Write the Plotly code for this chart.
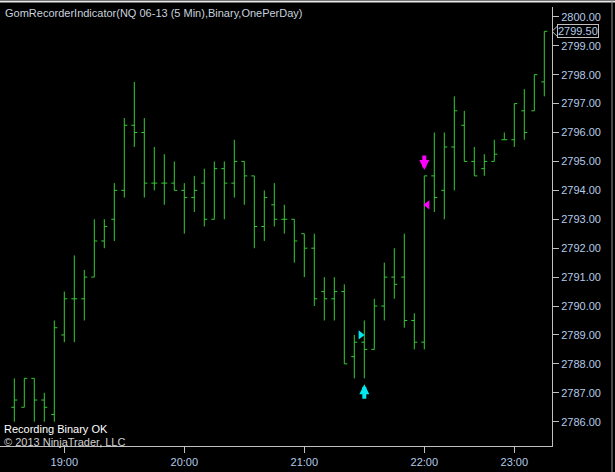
import plotly.graph_objects as go

# 5-minute bars, NQ 06-13 (bar close times)
times = [
    "18:35", "18:40", "18:45", "18:50", "18:55", "19:00", "19:05", "19:10", "19:15", "19:20",
    "19:25", "19:30", "19:35", "19:40", "19:45", "19:50", "19:55", "20:00", "20:05", "20:10",
    "20:15", "20:20", "20:25", "20:30", "20:35", "20:40", "20:45", "20:50", "20:55", "21:00",
    "21:05", "21:10", "21:15", "21:20", "21:25", "21:30", "21:35", "21:40", "21:45", "21:50",
    "21:55", "22:00", "22:05", "22:10", "22:15", "22:35", "22:40", "22:45", "22:50", "22:55",
    "23:00", "23:05", "23:10", "23:15",
]
opens = [
    2786.5, 2786.5, 2787.5, 2786.75, 2786.25, 2789.0, 2790.25, 2790.25, 2791.0, 2792.25,
    2793.0, 2794.0, 2796.25, 2796.0, 2794.25, 2794.25, 2794.25, 2794.0, 2793.75, 2794.25,
    2793.0, 2794.75, 2794.25, 2795.0, 2794.5, 2792.75, 2793.5, 2793.0, 2793.0, 2792.5,
    2792.0, 2790.5, 2790.25, 2790.5, 2788.25, 2788.75, 2788.5, 2790.0, 2791.0, 2791.0,
    2789.5, 2788.75, 2794.5, 2794.0, 2795.5, 2796.25, 2795.0, 2794.75, 2795.0, 2795.75,
    2795.75, 2796.75, 2796.75, 2797.75,
]
highs = [
    2787.5, 2787.5, 2787.5, 2787.0, 2789.5, 2790.5, 2791.75, 2791.25, 2793.0, 2793.0,
    2794.25, 2796.5, 2797.75, 2796.5, 2795.5, 2795.25, 2795.0, 2794.25, 2794.5, 2794.75,
    2795.0, 2795.0, 2795.75, 2795.0, 2794.5, 2794.0, 2794.25, 2793.5, 2793.0, 2792.5,
    2792.5, 2791.0, 2791.0, 2790.75, 2789.0, 2789.5, 2790.25, 2791.5, 2792.0, 2792.5,
    2789.75, 2794.5, 2796.0, 2796.0, 2797.25, 2796.75, 2795.5, 2795.25, 2795.75, 2796.0,
    2797.0, 2797.5, 2798.0, 2799.5,
]
lows = [
    2786.0, 2786.5, 2786.0, 2786.0, 2786.0, 2788.75, 2788.75, 2789.5, 2791.0, 2792.0,
    2792.25, 2793.75, 2795.5, 2793.75, 2794.0, 2793.5, 2794.0, 2792.5, 2793.25, 2792.75,
    2793.0, 2793.0, 2793.75, 2793.5, 2792.0, 2792.25, 2792.75, 2792.5, 2791.5, 2791.0,
    2790.0, 2789.5, 2789.5, 2788.0, 2787.5, 2787.5, 2788.5, 2789.5, 2790.25, 2789.25,
    2788.5, 2788.5, 2793.25, 2793.0, 2794.0, 2795.0, 2794.5, 2794.5, 2795.0, 2795.75,
    2795.5, 2795.75, 2796.75, 2797.25,
]
closes = [
    2786.75, 2787.5, 2786.75, 2786.5, 2789.25, 2790.25, 2790.25, 2791.0, 2792.25, 2792.75,
    2794.0, 2796.25, 2796.0, 2794.25, 2794.25, 2794.25, 2794.0, 2793.75, 2794.0, 2793.0,
    2794.75, 2794.25, 2795.0, 2794.5, 2792.75, 2793.75, 2793.0, 2793.0, 2792.25, 2792.0,
    2790.25, 2790.25, 2790.5, 2788.0, 2788.75, 2788.5, 2790.0, 2791.0, 2790.75, 2789.5,
    2788.75, 2794.5, 2793.75, 2795.5, 2796.75, 2795.0, 2794.5, 2795.0, 2795.25, 2795.75,
    2797.0, 2796.0, 2798.0, 2799.5,
]
time_ticks = ["19:00", "20:00", "21:00", "22:00", "23:00"]
price_ticks = [2786, 2787, 2788, 2789, 2790, 2791, 2792, 2793, 2794, 2795, 2796, 2797, 2798, 2799, 2800]

# recorded signals
long_bar = "21:30"
long_fill = 2789.0
short_bar = "22:00"
short_fill = 2793.5

BAR = "#32cd32"
AXIS = "#c0c0c0"
LABEL = "#b4cbe8"
FONT = "Liberation Sans, Arial, sans-serif"
W, H = 615, 472
M_L, M_R, M_T, M_B = 0, 63, 7, 26
plot_w = W - M_L - M_R
plot_h = H - M_T - M_B

idx = list(range(len(times)))

fig = go.Figure()
fig.add_trace(go.Ohlc(
    x=idx, open=opens, high=highs, low=lows, close=closes,
    increasing=dict(line=dict(color=BAR, width=1)),
    decreasing=dict(line=dict(color=BAR, width=1)),
    tickwidth=0.3, hoverinfo="skip", showlegend=False,
))

# fill markers next to the signal bars
li = times.index(long_bar)
si = times.index(short_bar)
fig.add_trace(go.Scatter(
    x=[li - 0.37], y=[long_fill], mode="markers", showlegend=False, hoverinfo="skip",
    marker=dict(symbol="triangle-right", size=8, color="#00e8f0", line=dict(width=0)),
))
fig.add_trace(go.Scatter(
    x=[si + 0.3], y=[short_fill], mode="markers", showlegend=False, hoverinfo="skip",
    marker=dict(symbol="triangle-left", size=8, color="#ff00ff", line=dict(width=0)),
))

# entry arrows
fig.add_annotation(x=li, y=lows[li], text="", showarrow=True, ax=0, ay=22,
                   arrowcolor="#00e8f0", arrowwidth=4, arrowhead=2, arrowsize=0.5, standoff=6)
fig.add_annotation(x=si, y=highs[si], text="", showarrow=True, ax=0, ay=-22,
                   arrowcolor="#ff00ff", arrowwidth=4, arrowhead=2, arrowsize=0.5, standoff=6)

# last price label on the axis
last = closes[-1]
fig.add_annotation(xref="paper", x=1, xanchor="left", xshift=5, y=last, yanchor="middle",
                   text=f"{last:.2f}", showarrow=False, bgcolor="black", bordercolor=AXIS,
                   borderwidth=1, borderpad=0, font=dict(family=FONT, size=11, color=LABEL))
fig.add_shape(type="path", xref="paper", yref="y",
              path=f"M {1 + 6 / plot_w},{last + 0.2} L 1,{last} L {1 + 6 / plot_w},{last - 0.2}",
              line=dict(color=AXIS, width=1))

# window frame
fig.add_shape(type="line", xref="paper", yref="paper", x0=0, x1=1 + M_R / plot_w,
              y0=1 + (M_T - 1.5) / plot_h, y1=1 + (M_T - 1.5) / plot_h, line=dict(color="#e8e8e8", width=2))
fig.add_shape(type="line", xref="paper", yref="paper", x0=1 + (M_R - 3) / plot_w,
              x1=1 + (M_R - 3) / plot_w, y0=-M_B / plot_h, y1=1 + M_T / plot_h,
              line=dict(color="#909090", width=1))

# texts
fig.add_annotation(xref="paper", yref="paper", x=0, y=1, xanchor="left", yanchor="top",
                   xshift=3, yshift=2, showarrow=False,
                   text="GomRecorderIndicator(NQ 06-13 (5 Min),Binary,OnePerDay)",
                   font=dict(family=FONT, size=11, color="#c8d2de"))
fig.add_annotation(xref="paper", yref="paper", x=0, y=0, xanchor="left", yanchor="bottom",
                   xshift=2, yshift=9, showarrow=False, text="Recording Binary OK",
                   font=dict(family=FONT, size=11, color="white"))
fig.add_annotation(xref="paper", yref="paper", x=0, y=0, xanchor="left", yanchor="bottom",
                   xshift=2, yshift=-4, showarrow=False, text="© 2013 NinjaTrader, LLC",
                   font=dict(family=FONT, size=11, color="#d0d0d0"))

fig.update_layout(
    width=W, height=H,
    margin=dict(l=M_L, r=M_R, t=M_T, b=M_B),
    paper_bgcolor="black", plot_bgcolor="black",
    font=dict(family=FONT, size=11, color=LABEL),
    showlegend=False,
    xaxis=dict(
        range=[-1.43, 53.77], rangeslider=dict(visible=False),
        tickmode="array", tickvals=[times.index(t) for t in time_ticks], ticktext=time_ticks,
        ticks="outside", ticklen=6, tickcolor=AXIS, showline=True, linecolor=AXIS, linewidth=1,
        showgrid=False, zeroline=False, tickfont=dict(color=LABEL, size=11),
    ),
    yaxis=dict(
        side="right", range=[2785.16, 2800.34], tickmode="array", tickvals=price_ticks,
        tickformat=".2f", ticks="outside", ticklen=6, tickcolor=AXIS,
        showline=True, linecolor=AXIS, linewidth=1, showgrid=False, zeroline=False,
        tickfont=dict(color=LABEL, size=11),
    ),
)

fig.write_html("out.html", config={"displayModeBar": False},
               post_script="document.body.style.margin='0';")
